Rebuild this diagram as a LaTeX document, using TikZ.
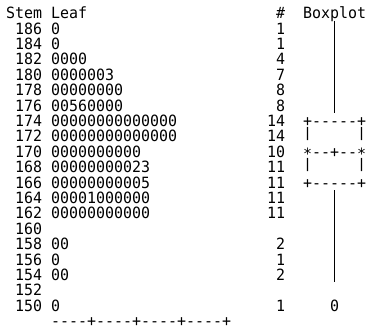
\documentclass[tikz,border=0pt]{standalone}
\usepackage{fontspec}
\setmonofont[FakeStretch=0.9645]{DejaVu Sans Mono}
\newcommand{\boxbar}{\raisebox{0.25em}{\scalebox{1}[0.85]{|}}}
\begin{document}
\begin{tikzpicture}[x=1pt,y=1pt,
  txt/.style={font=\ttfamily\fontsize{15.5}{15.4}\selectfont, inner sep=0pt, outer sep=0pt, text=black},
  lft/.style={txt, anchor=base west},
  rgt/.style={txt, anchor=base east},
  ctr/.style={txt, anchor=base},
  bar/.style={ctr, text height=13pt, text depth=-1pt},
  whisk/.style={draw=black, line width=1pt}]
\useasboundingbox[fill=white] (0,0) rectangle (370,329);
% header
\node[lft] (stemhdr) at (6.2,310.35) {Stem};
\node[lft] (leafhdr) at (51.2,310.35) {Leaf};
\node[ctr] (cnthdr) at (280.7,310.35) {\#};
\node[lft] (boxhdr) at (303.2,310.35) {Boxplot};
% rows with leaves
\foreach \r/\s/\l/\n in {1/186/0/1, 2/184/0/1, 3/182/0000/4, 4/180/0000003/7,
  5/178/00000000/8, 6/176/00560000/8, 7/174/00000000000000/14,
  8/172/00000000000000/14, 9/170/0000000000/10, 10/168/00000000023/11,
  11/166/00000000005/11, 12/164/00001000000/11, 13/162/00000000000/11,
  15/158/00/2, 16/156/0/1, 17/154/00/2, 19/150/0/1} {
  \pgfmathsetmacro\yb{310.35-15.4*\r}
  \node[rgt] (stem\s) at (42.2,\yb) {\s};
  \node[lft] (leaf\s) at (51.2,\yb) {\l};
  \node[rgt] (cnt\s) at (285.2,\yb) {\n};
}
% empty stems
\node[rgt] (stem160) at (42.2,{310.35-15.4*14}) {160};
\node[rgt] (stem152) at (42.2,{310.35-15.4*18}) {152};
% axis
\node[lft] (axis) at (51.2,{310.35-15.4*20}) {----+----+----+----+};
% boxplot
\node[lft] (boxtop) at (303.2,{310.35-15.4*7}) {+-----+};
\node[bar] (boxl1) at (307.7,{310.35-15.4*8}) {\boxbar};
\node[bar] (boxr1) at (361.7,{310.35-15.4*8}) {\boxbar};
\node[lft] (boxmed) at (303.2,{310.35-15.4*9}) {\raisebox{-0.17em}{*}--+--\raisebox{-0.17em}{*}};
\node[bar] (boxl2) at (307.7,{310.35-15.4*10}) {\boxbar};
\node[bar] (boxr2) at (361.7,{310.35-15.4*10}) {\boxbar};
\node[lft] (boxbot) at (303.2,{310.35-15.4*11}) {+-----+};
\node[ctr] (outl) at (334.7,{310.35-15.4*19}) {0};
% whiskers
\coordinate (wtop) at (334.7,308.3);
\coordinate (wbot) at (334.7,215.9);
\coordinate (wtop2) at (334.7,138.9);
\coordinate (wbot2) at (334.7,46.5);
\draw[whisk] (wtop) -- (wbot);
\draw[whisk] (wtop2) -- (wbot2);
\end{tikzpicture}
\end{document}
